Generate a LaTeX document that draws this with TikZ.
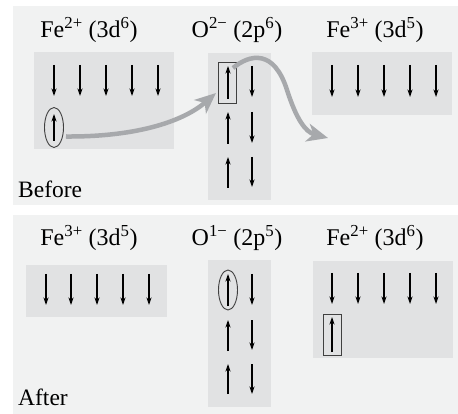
\documentclass[tikz,border=0pt]{standalone}
\usepackage{fontspec}
\setmainfont{Liberation Serif}
\usetikzlibrary{arrows.meta,shapes.geometric}
\definecolor{panelbg}{HTML}{F1F2F2}
\definecolor{boxbg}{HTML}{E1E2E3}
\definecolor{flow}{HTML}{A7A9AC}
\tikzset{
  spin/.style={draw=black,line width=1.1pt,-{Stealth[length=7.5pt,width=5pt]}},
  orb/.style={fill=boxbg,draw=none},
  lbl/.style={anchor=base,inner sep=0pt,font=\fontsize{24}{28}\selectfont},
  tag/.style={anchor=base west,inner sep=0pt,font=\fontsize{23.5}{28}\selectfont},
  flowarrow/.style={draw=flow,line width=4.5pt,-{Stealth[length=21pt,width=18pt,inset=6pt]}},
  mark1/.style={draw=black!75,line width=0.9pt,ellipse,inner sep=0pt,minimum width=19pt,minimum height=40pt},
  mark2/.style={draw=black!75,line width=0.9pt,rectangle,inner sep=0pt,minimum width=18pt,minimum height=41pt}
}
\begin{document}
\begin{tikzpicture}[x=1pt,y=-1pt]
\useasboundingbox (0,0) rectangle (458,414);
\fill[white] (0,0) rectangle (458,414);
% panels
\fill[panelbg] (13,6) rectangle (458,205);
\fill[panelbg] (13,215) rectangle (458,414);
% ---------- Before ----------
\fill[orb] (34,52) rectangle (174,149);
\fill[orb] (208,53) rectangle (271,200);
\fill[orb] (312,52) rectangle (452,115);
\node[lbl] (l1) at (89,38) {Fe\textsuperscript{2+} (3d\textsuperscript{6})};
\node[lbl] (l2) at (237,38) {O\textsuperscript{2−} (2p\textsuperscript{6})};
\node[lbl] (l3) at (375,38) {Fe\textsuperscript{3+} (3d\textsuperscript{5})};
\node[tag] (before) at (18,198) {Before};
\foreach \x in {54,80,106,132,158} \draw[spin] (\x,65) -- (\x,96);
\foreach \x in {332,358,384,410,436} \draw[spin] (\x,65) -- (\x,97);
\draw[spin] (54,141) -- (54,114);
\node[mark1] (ellA) at (54,127.5) {};
\draw[spin] (228,99) -- (228,66);
\draw[spin] (252,66) -- (252,97);
\draw[spin] (228,144) -- (228,112);
\draw[spin] (252,112) -- (252,143);
\draw[spin] (228,188) -- (228,157);
\draw[spin] (252,157) -- (252,187);
\node[mark2] (recA) at (227,83) {};
\coordinate (endB) at (328,138);
\draw[flowarrow] (66,136.5) .. controls (140,137) and (185,120) .. (216,93);
\draw[flowarrow] (233,68) .. controls (250,54) and (274,49) .. (287,90) .. controls (296,118) and (305,132) .. (endB);
% ---------- After ----------
\fill[orb] (26,265) rectangle (167,317);
\fill[orb] (208,260) rectangle (271,407);
\fill[orb] (313,261) rectangle (453,358);
\node[lbl] (l4) at (89,246) {Fe\textsuperscript{3+} (3d\textsuperscript{5})};
\node[lbl] (l5) at (237,246) {O\textsuperscript{1−} (2p\textsuperscript{5})};
\node[lbl] (l6) at (375,246) {Fe\textsuperscript{2+} (3d\textsuperscript{6})};
\node[tag] (after) at (18,405) {After};
\foreach \x in {46,71,97,123,149} \draw[spin] (\x,274) -- (\x,305);
\foreach \x in {332,358,384,410,436} \draw[spin] (\x,273) -- (\x,304);
\draw[spin] (228,306) -- (228,274);
\draw[spin] (252,274) -- (252,305);
\node[mark1] (ellB) at (228,290) {};
\draw[spin] (228,351) -- (228,320);
\draw[spin] (252,320) -- (252,350);
\draw[spin] (228,394) -- (228,364);
\draw[spin] (252,364) -- (252,394);
\draw[spin] (332,352) -- (332,317);
\node[mark2] (recB) at (332,335) {};
\end{tikzpicture}
\end{document}
